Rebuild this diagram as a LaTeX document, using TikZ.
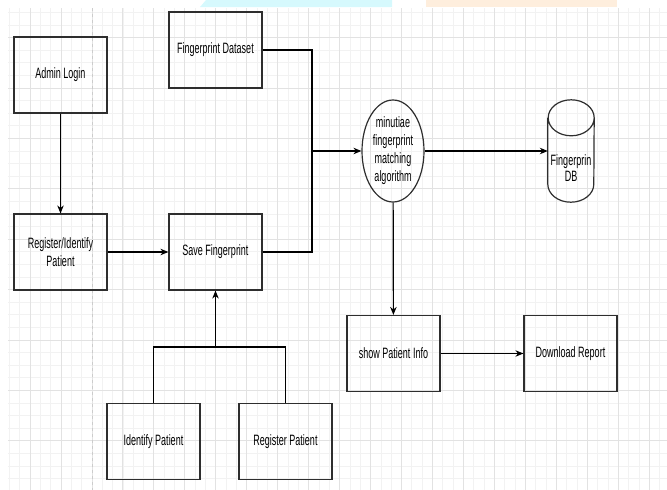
\documentclass[tikz,border=0pt]{standalone}
\usepackage{fontspec}
\setmainfont{Liberation Sans}[FakeStretch=0.6]
\usetikzlibrary{arrows.meta,shapes.geometric}
\definecolor{gridminor}{HTML}{F2F2F2}
\definecolor{gridmajor}{HTML}{E2E2E2}
\definecolor{boxline}{HTML}{2E2E2E}
\definecolor{markcyan}{HTML}{D6F9FD}
\definecolor{markorange}{HTML}{FEEEDD}
\begin{document}
\begin{tikzpicture}[x=1pt,y=-1pt,
    box/.style={draw=boxline,line width=1.2pt,minimum width=93pt,minimum height=76pt,inner sep=0pt,align=center,font=\fontsize{15}{18}\selectfont},
    flow/.style={line width=1.2pt,-{Stealth[length=8pt,width=6.5pt]}},
    link/.style={line width=1.2pt}]
    \useasboundingbox (0,0) rectangle (667,490);
    % faixas no topo
    \fill[markcyan] (206,0) -- (392,0) -- (392,7) -- (200,7) -- cycle;
    \fill[markorange] (426,0) rectangle (617,7);
    % grade
    \begin{scope}
    \clip (8,8) rectangle (667,490);
    \foreach \k in {0,...,64} \draw[gridminor,line width=0.8pt] (9.4+10.32*\k,8) -- (9.4+10.32*\k,490);
    \foreach \k in {0,...,38} \draw[gridminor,line width=0.8pt] (8,12.4+12.6*\k) -- (667,12.4+12.6*\k);
    \foreach \k in {0,...,20} \draw[gridmajor,line width=0.8pt] (30+30.95*\k,8) -- (30+30.95*\k,490);
    \foreach \k in {0,...,8} \draw[gridmajor,line width=1pt] (8,37.6+50.4*\k) -- (667,37.6+50.4*\k);
    \draw[gray!40,dashed,line width=0.8pt] (92,8) -- (92,490);
    \end{scope}

    % caixas
    \node[box] (admin) at (60.5,75) {Admin Login};
    \node[box] (dataset) at (215.5,50) {Fingerprint Dataset};
    \node[box] (regid) at (60.5,252) {Register/Identify\\Patient};
    \node[box] (save) at (215.5,252) {Save Fingerprint};
    \node[box] (identify) at (153.5,441.5) {Identify Patient};
    \node[box] (register) at (285.5,441.5) {Register Patient};
    \node[box] (info) at (393.5,353.5) {show Patient Info};
    \node[box] (report) at (570.5,353.5) {Download Report};
    \node[box,ellipse,minimum width=62pt,minimum height=102pt] (algo) at (393,151) {minutiae\\fingerprint\\matching\\algorithm};
    % cilindro
    \node[minimum width=46pt,minimum height=102pt,inner sep=0pt] (db) at (571,151) {};
    \draw[boxline,line width=1.2pt] ([yshift=-18pt]db.north west) -- ([yshift=18pt]db.south west)
        arc[start angle=180,end angle=360,x radius=23pt,y radius=18pt] -- ([yshift=-18pt]db.north east)
        arc[start angle=0,end angle=180,x radius=23pt,y radius=18pt]
        arc[start angle=180,end angle=360,x radius=23pt,y radius=18pt];
    \node[align=center,font=\fontsize{15}{16}\selectfont] (dbtext) at (571,168) {Fingerprin\\DB};

    % ligacoes
    \coordinate (join) at (312,151);
    \coordinate (fork) at (215.5,347);
    \draw[flow] (admin) -- (regid);
    \draw[flow] (regid) -- (save);
    \draw[link] (identify.north) |- (fork) -| (register.north);
    \draw[flow] (fork) -- (save);
    \draw[link] (dataset.east) -| (join);
    \draw[link] (save.east) -| (join);
    \draw[flow] (join) -- (algo.west);
    \draw[flow] (algo.east) -- (db.west);
    \draw[flow] (algo) -- (info);
    \draw[flow] (info) -- (report);

\end{tikzpicture}
\end{document}
